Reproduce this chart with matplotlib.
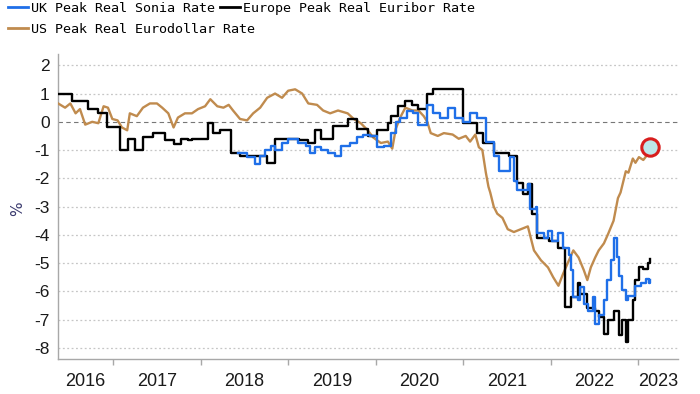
import matplotlib
matplotlib.use("Agg")
import matplotlib.pyplot as plt
import numpy as np

# decimal years / % values
eu_x = [2016.37, 2016.53, 2016.71, 2016.83, 2016.93, 2017.08, 2017.17, 2017.25, 2017.34, 2017.45,
        2017.59, 2017.69, 2017.77, 2017.85, 2017.90, 2018.08, 2018.14, 2018.22, 2018.35, 2018.45,
        2018.76, 2018.85, 2019.12, 2019.23, 2019.31, 2019.37, 2019.51, 2019.68, 2019.79, 2019.91,
        2020.02, 2020.14, 2020.17, 2020.25, 2020.34, 2020.42, 2020.49, 2020.59, 2020.66, 2021.00,
        2021.16, 2021.23, 2021.35, 2021.52, 2021.62, 2021.69, 2021.74, 2021.79, 2021.85, 2021.98,
        2022.08, 2022.17, 2022.23, 2022.31, 2022.34, 2022.42, 2022.51, 2022.55, 2022.61, 2022.66,
        2022.72, 2022.78, 2022.82, 2022.86, 2022.89, 2022.94, 2022.97, 2023.01, 2023.06, 2023.11,
        2023.14]
eu_y = [1.0, 0.75, 0.45, 0.3, -0.2, -1.0, -0.6, -1.0, -0.55, -0.4,
        -0.65, -0.8, -0.6, -0.65, -0.6, -0.05, -0.4, -0.3, -1.1, -1.2,
        -1.45, -0.6, -0.65, -0.75, -0.3, -0.6, -0.15, 0.1, -0.25, -0.5,
        -0.3, -0.05, 0.2, 0.55, 0.75, 0.6, 0.45, 1.0, 1.15, -0.05,
        -0.4, -0.75, -1.1, -1.2, -2.15, -2.55, -2.2, -3.25, -4.1, -4.2,
        -4.45, -6.55, -6.2, -5.7, -6.1, -6.6, -6.7, -6.9, -7.5, -7.0,
        -6.7, -7.55, -7.0, -7.8, -7.0, -6.3, -5.6, -5.15, -5.2, -5.0,
        -4.85]

uk_x = [2018.43, 2018.53, 2018.62, 2018.68, 2018.74, 2018.80, 2018.85, 2018.93, 2019.00, 2019.11,
        2019.20, 2019.25, 2019.31, 2019.37, 2019.45, 2019.54, 2019.60, 2019.71, 2019.79, 2019.86,
        2019.94, 2020.02, 2020.09, 2020.17, 2020.23, 2020.28, 2020.36, 2020.43, 2020.49, 2020.59,
        2020.66, 2020.74, 2020.83, 2020.91, 2021.00, 2021.08, 2021.16, 2021.26, 2021.35, 2021.41,
        2021.54, 2021.58, 2021.62, 2021.74, 2021.77, 2021.83, 2021.85, 2021.92, 2021.97, 2022.02,
        2022.09, 2022.14, 2022.21, 2022.23, 2022.26, 2022.31, 2022.34, 2022.38, 2022.43, 2022.48,
        2022.51, 2022.55, 2022.61, 2022.65, 2022.69, 2022.72, 2022.76, 2022.78, 2022.82, 2022.86,
        2022.89, 2022.97, 2023.03, 2023.09, 2023.12, 2023.14]
uk_y = [-1.1, -1.25, -1.5, -1.2, -1.0, -0.85, -1.0, -0.75, -0.6, -0.75,
        -0.85, -1.1, -0.9, -1.0, -1.1, -1.2, -0.85, -0.75, -0.55, -0.45,
        -0.5, -0.9, -0.85, -0.4, 0.0, 0.15, 0.4, 0.3, -0.1, 0.6,
        0.3, 0.15, 0.5, 0.15, 0.0, 0.3, 0.15, -0.7, -1.2, -1.75,
        -1.25, -2.1, -2.4, -2.2, -3.1, -3.0, -3.95, -4.1, -3.85, -4.2,
        -3.95, -4.45, -4.7, -5.25, -6.2, -6.3, -5.85, -6.45, -6.7, -6.2,
        -7.15, -6.85, -6.3, -5.6, -4.9, -4.1, -4.8, -5.45, -5.95, -6.3,
        -6.15, -5.8, -5.7, -5.55, -5.7, -5.6]

us_x = [2016.37, 2016.45, 2016.51, 2016.57, 2016.62, 2016.68, 2016.76, 2016.83, 2016.89, 2016.94,
        2016.99, 2017.05, 2017.10, 2017.16, 2017.19, 2017.27, 2017.34, 2017.42, 2017.50, 2017.56,
        2017.63, 2017.69, 2017.74, 2017.82, 2017.90, 2017.97, 2018.05, 2018.11, 2018.19, 2018.26,
        2018.32, 2018.37, 2018.45, 2018.53, 2018.60, 2018.68, 2018.76, 2018.85, 2018.93, 2019.00,
        2019.08, 2019.16, 2019.23, 2019.33, 2019.40, 2019.48, 2019.57, 2019.68, 2019.75, 2019.83,
        2019.91, 2019.97, 2020.06, 2020.14, 2020.19, 2020.23, 2020.28, 2020.34, 2020.42, 2020.49,
        2020.55, 2020.59, 2020.63, 2020.71, 2020.78, 2020.88, 2020.95, 2021.03, 2021.08, 2021.14,
        2021.18, 2021.22, 2021.26, 2021.29, 2021.31, 2021.35, 2021.39, 2021.45, 2021.51, 2021.58,
        2021.66, 2021.74, 2021.81, 2021.89, 2021.97, 2022.03, 2022.09, 2022.14, 2022.21, 2022.26,
        2022.32, 2022.38, 2022.42, 2022.46, 2022.51, 2022.55, 2022.61, 2022.66, 2022.72, 2022.77,
        2022.80, 2022.84, 2022.86, 2022.89, 2022.94, 2022.97, 2023.01, 2023.06, 2023.11, 2023.14]
us_y = [0.65, 0.5, 0.65, 0.3, 0.45, -0.1, 0.0, -0.05, 0.55, 0.5,
        0.1, 0.05, -0.2, -0.3, 0.3, 0.2, 0.5, 0.65, 0.65, 0.5,
        0.3, -0.2, 0.15, 0.3, 0.3, 0.45, 0.55, 0.8, 0.55, 0.5,
        0.6, 0.4, 0.1, 0.05, 0.3, 0.5, 0.85, 1.0, 0.85, 1.1,
        1.15, 1.0, 0.65, 0.6, 0.4, 0.3, 0.4, 0.3, 0.1, -0.05,
        -0.3, -0.55, -0.75, -0.7, -0.95, -0.25, 0.15, 0.5, 0.4, 0.4,
        0.2, 0.0, -0.4, -0.5, -0.4, -0.45, -0.6, -0.5, -0.7, -0.45,
        -0.9, -1.0, -1.8, -2.3, -2.5, -3.0, -3.25, -3.4, -3.8, -3.9,
        -3.8, -3.7, -4.55, -4.9, -5.15, -5.5, -5.8, -5.4, -4.9, -4.55,
        -4.8, -5.25, -5.6, -5.15, -4.8, -4.55, -4.3, -3.95, -3.5, -2.7,
        -2.5, -2.0, -1.75, -1.8, -1.3, -1.45, -1.25, -1.35, -1.15, -0.9]

years = [2016, 2017, 2018, 2019, 2020, 2021, 2022, 2023]
yticks = [2, 1, 0, -1, -2, -3, -4, -5, -6, -7, -8]

c_uk = "#1f6fe8"
c_eu = "#000000"
c_us = "#c08b4e"

fig = plt.figure(figsize=(7, 3.94), dpi=100)
ax = fig.add_axes([0.083, 0.089, 0.886, 0.774])

xmin, xmax = 2016.37, 2023.46
ax.set_xlim(xmin, xmax)
ax.set_ylim(-8.39, 2.40)

for v in yticks:
    if v == 0:
        ax.axhline(v, color="#777777", lw=0.8, ls=(0, (4, 3)), zorder=1)
    else:
        ax.axhline(v, color="#c6c6c6", lw=0.9, ls=(0, (1.5, 2)), zorder=1)

ax.plot(us_x, us_y, color=c_us, lw=1.7, zorder=3)
ax.plot(eu_x, eu_y, color=c_eu, lw=1.7, drawstyle="steps-post", zorder=4)
ax.plot(uk_x, uk_y, color=c_uk, lw=1.7, drawstyle="steps-post", zorder=5)
ax.plot(us_x[-1], us_y[-1], "o", ms=12.5, mfc="#bde6ea", mec="#d81e1e", mew=2.2, zorder=6)

for s in ["top", "right"]:
    ax.spines[s].set_visible(False)
for s in ["left", "bottom"]:
    ax.spines[s].set_color("#a8a8a8")
    ax.spines[s].set_linewidth(1.0)

tick_font = "Liberation Sans"
ax.set_yticks(yticks)
ax.set_yticklabels([str(v) for v in yticks], family=tick_font)
ax.tick_params(axis="y", length=0, pad=6, labelsize=12.5, labelcolor="#1a1a1a")

# year boundaries get tick marks, labels sit in the middle of each year
ax.set_xticks(years[1:])
ax.set_xticklabels([])
ax.tick_params(axis="x", length=4, width=1, color="#a8a8a8", direction="out")
lab_x = [(max(y, xmin) + min(y + 1, xmax)) / 2 for y in years]
ax.set_xticks(lab_x, minor=True)
ax.set_xticklabels([str(y) for y in years], minor=True,
                   family=tick_font, fontsize=13, color="#1a1a1a")
ax.tick_params(axis="x", which="minor", length=0, pad=10)

fig.text(0.025, 0.47, "%", rotation=90, fontsize=11, color="#3a3a6e", ha="center", va="center")

h_uk = plt.Line2D([], [], color=c_uk, lw=2)
h_eu = plt.Line2D([], [], color=c_eu, lw=2)
h_us = plt.Line2D([], [], color=c_us, lw=2)
lp = dict(frameon=False, prop={"family": "DejaVu Sans Mono", "size": 9.6},
          handlelength=1.45, handletextpad=0.25, borderpad=0, borderaxespad=0)
leg1 = fig.legend([h_uk, h_eu], ["UK Peak Real Sonia Rate", "Europe Peak Real Euribor Rate"],
                  loc="upper left", bbox_to_anchor=(0.012, 0.995), ncol=2, columnspacing=0.4, **lp)
leg2 = fig.legend([h_us], ["US Peak Real Eurodollar Rate"],
                  loc="upper left", bbox_to_anchor=(0.012, 0.942), **lp)

fig.savefig("out.png", dpi=100)
